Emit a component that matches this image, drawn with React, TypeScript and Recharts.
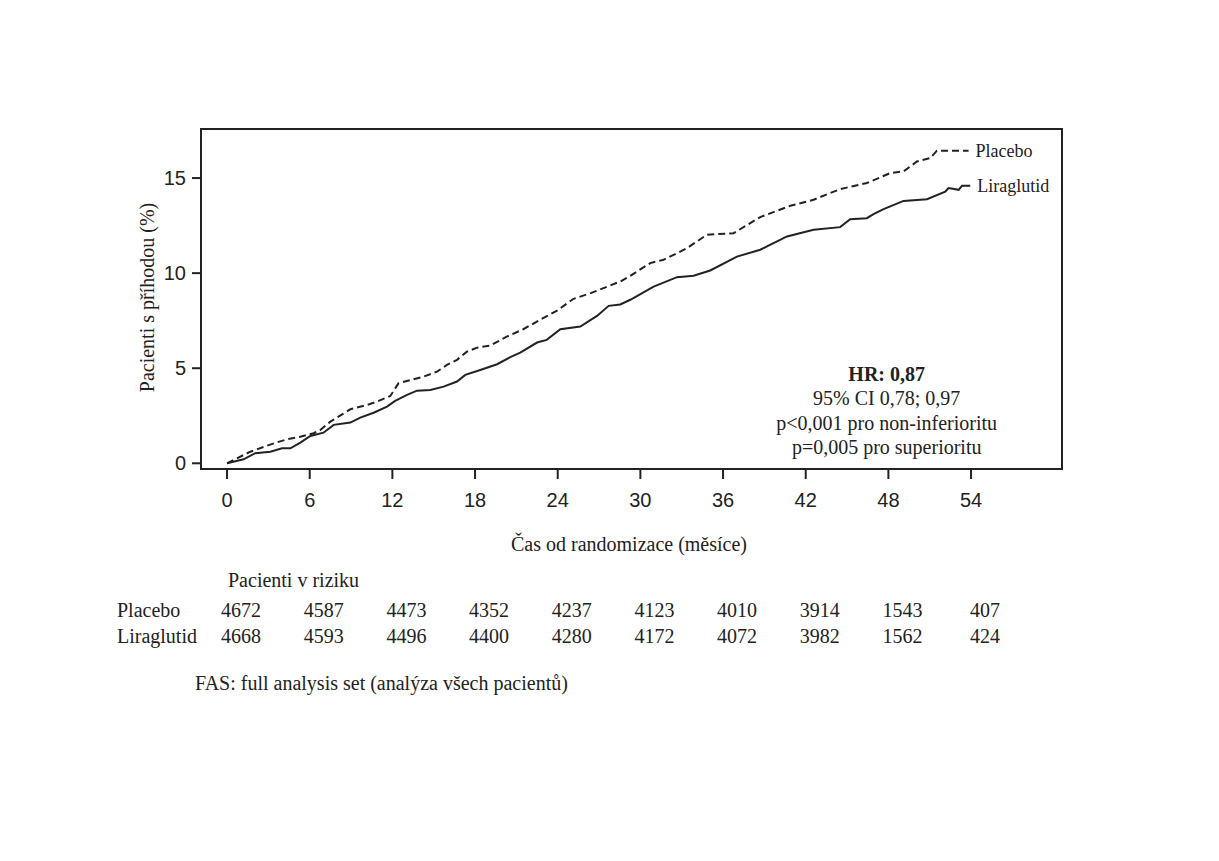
import React from 'react'
import { LineChart, Line, XAxis, YAxis, ReferenceArea } from 'recharts'

// Kaplan-Meier cumulative incidence, months vs % of patients with event
const monthTicks = [0, 6, 12, 18, 24, 30, 36, 42, 48, 54]
const pctTicks = [0, 5, 10, 15]

const placeboMonths = [
  0, 1.69, 3.4, 4.35, 5.32, 6.29, 6.77, 7.5, 8.95, 10.16, 10.88, 11.85, 12.45, 14.27, 15.24, 15.96,
  16.69, 17.41, 18.14, 19.1, 20.3, 21.5, 22.7, 23.95, 25.15, 26.4, 27.8, 28.54, 29.27, 30.72, 31.68,
  33.38, 34.83, 36.76, 38.7, 40.88, 42.57, 44.5, 46.44, 48.13, 49.1, 50.07, 51.04, 51.52, 53.82,
]
const placeboPct = [
  0, 0.61, 1.05, 1.26, 1.4, 1.58, 1.75, 2.19, 2.84, 3.07, 3.24, 3.54, 4.21, 4.56, 4.82, 5.17,
  5.44, 5.87, 6.08, 6.19, 6.66, 7.05, 7.54, 8.03, 8.65, 8.95, 9.35, 9.56, 9.86, 10.53, 10.7,
  11.31, 12.02, 12.1, 12.95, 13.54, 13.86, 14.42, 14.74, 15.26, 15.35, 15.87, 16.05, 16.44, 16.44,
]

const liraMonths = [
  0, 1.2, 2.05, 3.14, 4.0, 4.6, 5.32, 6.05, 7.0, 7.74, 8.95, 9.67, 10.64, 11.61, 12.2, 13.06, 13.79,
  14.75, 15.72, 16.69, 17.29, 18.38, 19.6, 20.56, 21.28, 22.5, 23.2, 24.19, 25.64, 26.85, 27.7, 28.54,
  29.27, 30.96, 32.66, 33.86, 35.07, 37.01, 38.7, 40.64, 42.57, 44.5, 45.23, 46.44, 46.92, 47.65,
  49.1, 50.8, 52.13, 52.37, 53.1, 53.34, 53.94,
]
const liraPct = [
  0, 0.21, 0.53, 0.61, 0.79, 0.79, 1.09, 1.44, 1.61, 2.02, 2.14, 2.4, 2.66, 2.98, 3.28, 3.6, 3.82,
  3.86, 4.03, 4.3, 4.65, 4.91, 5.21, 5.58, 5.82, 6.35, 6.49, 7.05, 7.19, 7.75, 8.28, 8.35,
  8.6, 9.29, 9.79, 9.86, 10.14, 10.87, 11.23, 11.93, 12.28, 12.42, 12.84, 12.89, 13.1, 13.37,
  13.8, 13.89, 14.29, 14.47, 14.38, 14.59, 14.59,
]

// patients at risk at each month tick
const placeboAtRisk = [4672, 4587, 4473, 4352, 4237, 4123, 4010, 3914, 1543, 407]
const liraAtRisk = [4668, 4593, 4496, 4400, 4280, 4172, 4072, 3982, 1562, 424]

const hrLines = ['95% CI 0,78; 0,97', 'p<0,001 pro non-inferioritu', 'p=0,005 pro superioritu']

const SERIF = '"Liberation Serif", "Times New Roman", serif'
const SANS = '"Liberation Sans", Arial, sans-serif'
const INK = '#222'

const X_DOMAIN: [number, number] = [-1.89, 60.6]
const Y_DOMAIN: [number, number] = [-0.3, 17.58]

const toPoints = (months: number[], pct: number[]) => months.map((m, i) => ({ month: m, pct: pct[i] }))
const placeboData = toPoints(placeboMonths, placeboPct)
const liraData = toPoints(liraMonths, liraPct)

// writes the series name just right of its last point
const endLabel = (name: string, lastIndex: number) => (props: any) => {
  const { cx, cy, index } = props
  if (index !== lastIndex) return <g key={`d-${name}-${index}`} />
  return (
    <text key={`d-${name}-${index}`} x={cx + 7} y={cy} dy="0.35em" fontFamily={SERIF} fontSize={18} fill={INK}>
      {name}
    </text>
  )
}

const RiskTick = (props: any) => {
  const { x, y, payload } = props
  const i = monthTicks.indexOf(payload.value)
  if (i < 0) return null
  return (
    <g fontFamily={SERIF} fontSize={20} fill={INK}>
      <text x={x + 14} y={y + 118} textAnchor="middle">{placeboAtRisk[i]}</text>
      <text x={x + 14} y={y + 144} textAnchor="middle">{liraAtRisk[i]}</text>
    </g>
  )
}

export default function App() {
  return (
    <div style={{ position: 'absolute', left: 0, top: 0, width: 1219, height: 861, background: '#fff' }}>
      <LineChart width={1219} height={861} margin={{ top: 129, right: 157, bottom: 222, left: 141 }}>
        <XAxis
          dataKey="month"
          type="number"
          domain={X_DOMAIN}
          allowDataOverflow
          ticks={monthTicks}
          interval={0}
          height={30}
          tickSize={10}
          tickMargin={14}
          axisLine={{ stroke: INK, strokeWidth: 2 }}
          tickLine={{ stroke: INK, strokeWidth: 2 }}
          tick={{ fontFamily: SANS, fontSize: 20, fill: INK }}
        />
        <XAxis
          xAxisId="risk"
          dataKey="month"
          type="number"
          domain={X_DOMAIN}
          allowDataOverflow
          ticks={monthTicks}
          interval={0}
          height={140}
          tickSize={0}
          tickMargin={0}
          axisLine={false}
          tickLine={false}
          tick={<RiskTick />}
        />
        <YAxis
          type="number"
          domain={Y_DOMAIN}
          allowDataOverflow
          ticks={pctTicks}
          interval={0}
          width={60}
          tickSize={9}
          tickMargin={6}
          axisLine={{ stroke: INK, strokeWidth: 2 }}
          tickLine={{ stroke: INK, strokeWidth: 2 }}
          tick={{ fontFamily: SANS, fontSize: 20, fill: INK }}
        />
        <ReferenceArea
          x1={X_DOMAIN[0]}
          x2={X_DOMAIN[1]}
          y1={Y_DOMAIN[0]}
          y2={Y_DOMAIN[1]}
          ifOverflow="visible"
          fill="none"
          stroke={INK}
          strokeWidth={2}
        />
        <Line
          data={placeboData}
          dataKey="pct"
          type="linear"
          stroke={INK}
          strokeWidth={2}
          strokeDasharray="7 4"
          dot={endLabel('Placebo', placeboData.length - 1)}
          activeDot={false}
          isAnimationActive={false}
        />
        <Line
          data={liraData}
          dataKey="pct"
          type="linear"
          stroke={INK}
          strokeWidth={2}
          dot={endLabel('Liraglutid', liraData.length - 1)}
          activeDot={false}
          isAnimationActive={false}
        />
      </LineChart>
      <svg
        width={1219}
        height={861}
        style={{ position: 'absolute', left: 0, top: 0, pointerEvents: 'none' }}
        fontFamily={SERIF}
        fontSize={20}
        fill={INK}
      >
        <text transform="translate(154, 297.5) rotate(-90)" textAnchor="middle">
          Pacienti s příhodou (%)
        </text>
        <text x={629} y={551} textAnchor="middle">Čas od randomizace (měsíce)</text>
        <text x={886.7} y={380.7} textAnchor="middle" fontWeight="bold">HR: 0,87</text>
        {hrLines.map((line, i) => (
          <text key={line} x={886.7} y={405.3 + i * 24.5} textAnchor="middle">{line}</text>
        ))}
        <text x={228} y={587}>Pacienti v riziku</text>
        <text x={117} y={617}>Placebo</text>
        <text x={117} y={643}>Liraglutid</text>
        <text x={195} y={690}>FAS: full analysis set (analýza všech pacientů)</text>
      </svg>
    </div>
  )
}
